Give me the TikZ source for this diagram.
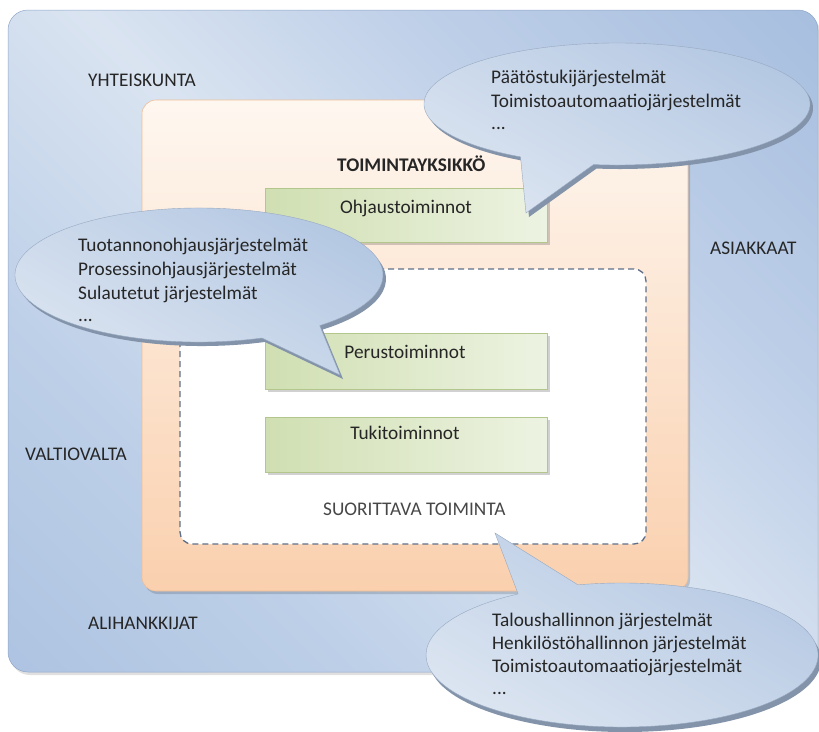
\documentclass[tikz,border=0pt]{standalone}
\usepackage{fontspec}
\setmainfont{Carlito}
\definecolor{txt}{HTML}{262626}
\definecolor{peachtop}{HTML}{FEF7F0}
\definecolor{peachmid}{HTML}{FBD8BA}
\definecolor{peachbot}{HTML}{FAD0AE}
\definecolor{peachline}{HTML}{EDBE98}
\definecolor{dashcol}{HTML}{5F6F89}
\definecolor{greenL}{HTML}{D0DFB2}
\definecolor{greenR}{HTML}{EDF3E2}
\definecolor{greenline}{HTML}{B3C78C}
\definecolor{bubtop}{HTML}{B3C7E2}
\definecolor{bubmid}{HTML}{E9EFF7}
\definecolor{bubbot}{HTML}{DCE5F1}
\definecolor{bubrim}{HTML}{8293AA}
\definecolor{outerline}{HTML}{8EA6C8}
% society background: dark at two corners, light along the other diagonal
\pgfdeclareverticalshading{societyshade}{100bp}{%
  color(0bp)=({rgb,255:red,160;green,185;blue,220});
  color(32bp)=({rgb,255:red,190;green,208;blue,232});
  color(50bp)=({rgb,255:red,218;green,228;blue,241});
  color(66bp)=({rgb,255:red,190;green,207;blue,232});
  color(100bp)=({rgb,255:red,150;green,178;blue,216})}
\begin{document}
\begin{tikzpicture}[x=1pt,y=-1pt,
  lbl/.style={font=\fontsize{19.3}{24}\selectfont, text=txt, inner sep=0pt},
  boldlbl/.style={lbl, font=\fontsize{19.3}{24}\selectfont\bfseries},
  greenbox/.style={rectangle, minimum width=282pt, minimum height=54pt,
    left color=greenL, right color=greenR, draw=greenline, line width=0.8pt,
    inner sep=0pt},
  boxshadow/.style={fill=black, opacity=0.18},
  bubble/.style={top color=bubtop, middle color=bubmid, bottom color=bubbot,
    shading angle=-30, draw=bubtop!85!black, line width=0.4pt},
  bubbleshadow/.style={fill=bubrim}
]
\useasboundingbox (0,0) rectangle (819,731);

% society: outer rounded region
\fill[black, opacity=0.12, rounded corners=20pt] (10,13) rectangle (820,675);
\path[rounded corners=20pt, shading=societyshade, shading angle=-45,
  draw=outerline, line width=0.5pt]
  (8,10) rectangle (818,672);

% operating unit
\fill[black, opacity=0.15, rounded corners=14pt] (144,103) rectangle (690,594);
\path[rounded corners=14pt, top color=peachtop, middle color=peachmid,
  bottom color=peachbot, draw=peachline, line width=0.6pt]
  (142,100) rectangle (688,591);

% executing activity
\path[fill=white, draw=dashcol, dashed, dash pattern=on 6pt off 4pt,
  line width=1.3pt, rounded corners=12pt] (180,269) rectangle (646,544);

% function boxes
\fill[boxshadow] (268,192) rectangle (550,245);
\node[greenbox] (ohj) at (406,215.5) {};
\fill[boxshadow] (268,336) rectangle (550,392);
\node[greenbox, minimum height=56pt] (per) at (406,361) {};
\fill[boxshadow] (268,420) rectangle (550,475);
\node[greenbox, minimum height=55pt] (tuk) at (406,444.5) {};

\node[lbl, anchor=base] (ohjt) at (406,213) {Ohjaustoiminnot};
\node[lbl, anchor=base] (pert) at (405,358) {Perustoiminnot};
\node[lbl, anchor=base] (tukt) at (405,439) {Tukitoiminnot};

% region labels
\node[lbl, anchor=base west] (yht) at (88,86) {YHTEISKUNTA};
\node[boldlbl, anchor=base west] (toy) at (337,171) {TOIMINTAYKSIKKÖ};
\node[lbl, anchor=base west] (asi) at (710,254) {ASIAKKAAT};
\node[lbl, anchor=base west] (val) at (25,460) {VALTIOVALTA};
\node[lbl, anchor=base west] (ali) at (88,629) {ALIHANKKIJAT};
\node[lbl, anchor=base west, text=txt!85!white] (suo) at (323,515) {SUORITTAVA TOIMINTA};

% callout: management systems
\fill[bubbleshadow] (620,108) ++(120:193 and 61)
  arc[start angle=120, end angle=457, x radius=193, y radius=61]
  -- (529,217) -- cycle;
\path[bubble] (617,104) ++(120:193 and 61)
  arc[start angle=120, end angle=457, x radius=193, y radius=61]
  -- (526,213) -- cycle;
\node[lbl, anchor=base west] (c1a) at (491,83) {Päätöstukijärjestelmät};
\node[lbl, anchor=base west] (c1b) at (491,107) {Toimistoautomaatiojärjestelmät};
\node[lbl, anchor=base west] (c1c) at (491,129) {...};

% callout: production systems
\fill[bubbleshadow] (202,279) ++(70:184 and 67)
  arc[start angle=70, end angle=409, x radius=184, y radius=67]
  -- (343,379) -- cycle;
\path[bubble] (199,275) ++(70:184 and 67)
  arc[start angle=70, end angle=409, x radius=184, y radius=67]
  -- (340,375) -- cycle;
\node[lbl, anchor=base west] (c2a) at (78,251) {Tuotannonohjausjärjestelmät};
\node[lbl, anchor=base west] (c2b) at (78,275.5) {Prosessinohjausjärjestelmät};
\node[lbl, anchor=base west] (c2c) at (78,299) {Sulautetut järjestelmät};
\node[lbl, anchor=base west] (c2d) at (78,321) {...};

% callout: support systems
\fill[bubbleshadow] (625,660) ++(-103:196 and 72)
  arc[start angle=-103, end angle=238, x radius=196, y radius=72]
  -- (498,538) -- cycle;
\path[bubble] (622,655) ++(-103:196 and 72)
  arc[start angle=-103, end angle=238, x radius=196, y radius=72]
  -- (495,533) -- cycle;
\node[lbl, anchor=base west] (c3a) at (492,626) {Taloushallinnon järjestelmät};
\node[lbl, anchor=base west] (c3b) at (492,649) {Henkilöstöhallinnon järjestelmät};
\node[lbl, anchor=base west] (c3c) at (492,672) {Toimistoautomaatiojärjestelmät};
\node[lbl, anchor=base west] (c3d) at (492,694) {...};
\end{tikzpicture}
\end{document}
